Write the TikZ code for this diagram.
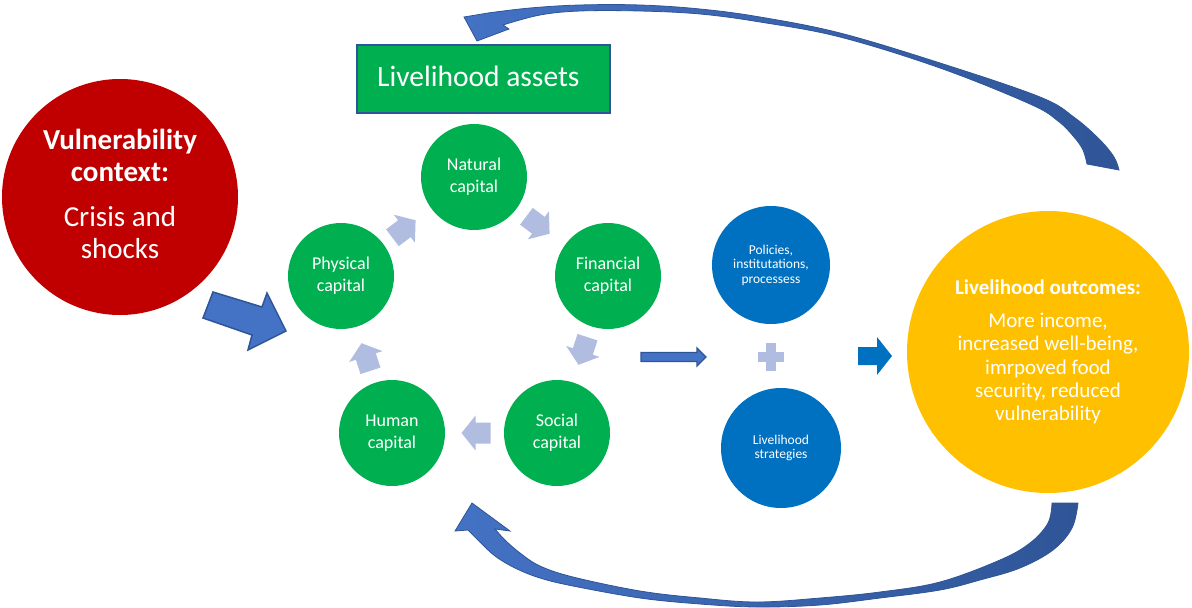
\documentclass[tikz,border=0pt]{standalone}
\usepackage{fontspec}
\setmainfont{Carlito}
\definecolor{vred}{HTML}{C00000}
\definecolor{agreen}{HTML}{00B050}
\definecolor{pblue}{HTML}{0070C0}
\definecolor{oyellow}{HTML}{FFC000}
\definecolor{larr}{HTML}{B0BCE0}
\definecolor{midblue}{HTML}{4472C4}
\definecolor{darkblue}{HTML}{2F5597}
\begin{document}
\begin{tikzpicture}[x=1pt,y=-1pt,
  circ/.style={circle, inner sep=0pt, text=white, align=center},
  gcirc/.style={circ, fill=agreen, minimum size=106pt, font=\fontsize{18}{22}\selectfont},
  bcirc/.style={circ, fill=pblue, minimum size=118pt, font=\fontsize{13.5}{14.5}\selectfont},
  lightarrow/.style={fill=larr},
  bigarrow/.style={fill=midblue, draw=darkblue, line width=1.5pt, line join=miter},
  curvearrow/.style={left color=midblue, right color=darkblue, draw=darkblue, line width=0.8pt}]
\useasboundingbox (0,0) rectangle (1192,608);

% vulnerability context
\node[circ, fill=vred, minimum size=236pt] (vuln) at (120,197) {};
\node[text=white, align=center, inner sep=0pt, font=\fontsize{29}{32}\selectfont] (vulntext) at (120,194)
  {\textbf{Vulnerability}\\\textbf{context:}\\[13pt]Crisis and\\shocks};

% livelihood assets box
\node[fill=agreen, draw=darkblue, line width=2pt, minimum width=253pt, minimum height=68pt, inner sep=0pt]
  (assets) at (483.5,79) {};
\node[text=white, anchor=west, inner sep=0pt, font=\fontsize{29.5}{32}\selectfont]
  (assetstext) at (377,76) {Livelihood assets};

% capitals
\node[gcirc] (natural)   at (474,177) {Natural\\capital};
\node[gcirc] (financial) at (608,276) {Financial\\capital};
\node[gcirc] (physical)  at (341,276) {Physical\\capital};
\node[gcirc] (human)     at (392,433) {Human\\capital};
\node[gcirc] (social)    at (557,433) {Social\\capital};

% light cycle arrows
\newcommand\cyclearrow[2]{\fill[lightarrow, shift={#1}, rotate=#2]
  (-14.5,-10.5) -- (0.5,-10.5) -- (0.5,-17.5) -- (14.5,0) -- (0.5,17.5) -- (0.5,10.5) -- (-14.5,10.5) -- cycle;}
\cyclearrow{(404,229)}{37}
\cyclearrow{(538,225)}{-37}
\cyclearrow{(583,351)}{-108}
\cyclearrow{(476,433)}{180}
\cyclearrow{(366,357)}{108}

% arrow from vulnerability into assets
\path[bigarrow] (213,292) -- (262,307) -- (267,293) -- (286,331) -- (248,350) -- (252,335) -- (203,318) -- cycle;

% thin arrow to policies
\path[fill=midblue, draw=darkblue, line width=1.2pt]
  (641,352.5) -- (697,352.5) -- (697,348) -- (706,357) -- (697,366) -- (697,361.5) -- (641,361.5) -- cycle;

% policies and strategies
\node[bcirc] (policies)   at (771,265) {Policies,\\institutations,\\processess};
\node[bcirc, minimum size=120pt] (strategies) at (781,448) {Livelihood\\strategies};

% plus
\fill[larr] (758,352) rectangle (784,362);
\fill[larr] (766,343) rectangle (776,371);

% arrow to outcomes
\fill[pblue] (858,347) -- (877,347) -- (877,337) -- (892,356) -- (877,375) -- (877,365) -- (858,365) -- cycle;

% outcomes
\node[circ, fill=oyellow, minimum size=282pt, font=\fontsize{21}{23.3}\selectfont] (outcomes) at (1048,352)
  {\textbf{Livelihood outcomes:}\\[9.7pt]More income,\\increased well-being,\\imrpoved food\\security, reduced\\vulnerability};

% top curved arrow (outcomes back to assets)
\shadedraw[curvearrow]
  plot[smooth, tension=0.6] coordinates {(1087,164) (1083,150) (1074,137) (1058,121) (1030,104) (940,68) (840,37) (760,22) (700,14) (640,11) (580,11) (540,15) (503,25)}
  -- (509,29) -- (477,41) -- (464,17)
  -- plot[smooth, tension=0.6] coordinates {(488,13) (530,8) (580,5) (640,5) (700,9) (760,17) (840,33) (940,63) (1040,97) (1075,118) (1100,140) (1114,157) (1119,170)}
  -- cycle;

% bottom curved arrow (outcomes back to capitals)
\shadedraw[curvearrow]
  plot[smooth, tension=0.6] coordinates {(1052,503) (1048,523) (1030,543) (1000,560) (940,582) (880,592) (820,598) (757,602) (700,598) (640,591) (573,577) (540,566) (520,553) (505,540) (495,529)}
  -- (510,531) -- (472,503) -- (455,531)
  -- plot[smooth, tension=0.6] coordinates {(468,530) (480,542) (495,556) (515,568) (540,578) (573,586) (640,598) (700,604) (757,607) (820,605) (880,598) (940,590) (980,580) (1020,568) (1053,550) (1072,528) (1078,503)}
  -- cycle;
\end{tikzpicture}
\end{document}
